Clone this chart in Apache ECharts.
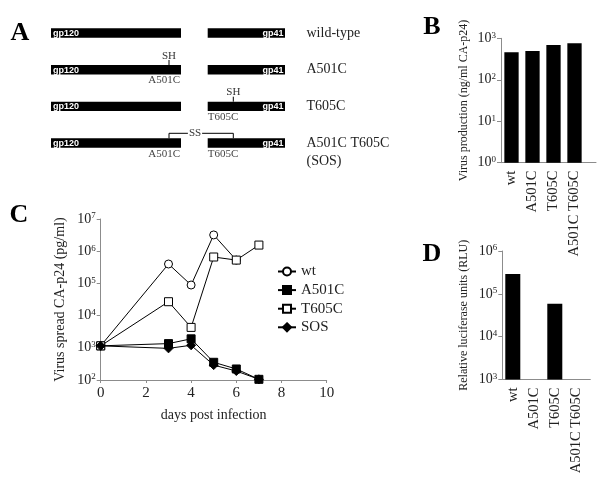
<!DOCTYPE html>
<html><head><meta charset="utf-8">
<script src="https://cdn.jsdelivr.net/npm/echarts@6/dist/echarts.min.js"></script>
<style>html,body{margin:0;padding:0;background:#fff}#c{width:600px;height:479px}</style>
</head><body><div id="c"></div>
<script>
// ---------- Panel A (schematic) ----------
const constructNames = ['wild-type', 'A501C', 'T605C', 'A501C T605C', '(SOS)'];
const domainNames = ['gp120', 'gp41'];
const mutationNames = ['A501C', 'T605C'];
const thiolLabels = ['SH', 'SS'];
// ---------- Panel B ----------
const productionCategories = ['wt', 'A501C', 'T605C', 'A501C T605C'];
const productionValues = [460, 495, 690, 760];
// ---------- Panel C ----------
const days = [0, 3, 4, 5, 6, 7];
const wtSpread = [1150, 4.0e5, 8.9e4, 3.2e6, 5.3e5, null];
const a501cSpread = [1150, 1350, 1900, 355, 220, 105];
const t605cSpread = [1150, 2.7e4, 4.3e3, 6.6e5, 5.3e5, 1.55e6];
const sosSpread = [1150, 960, 1200, 290, 190, 105];
const spreadSeriesNames = ['wt', 'A501C', 'T605C', 'SOS'];
// ---------- Panel D ----------
const luciferaseCategories = ['wt', 'A501C', 'T605C', 'A501C T605C'];
const luciferaseValues = [2.9e5, null, 5.9e4, null];
const panelLetters = ['A', 'B', 'C', 'D'];

const SERIF = "'Liberation Serif', 'Times New Roman', serif";
const SANS = "'Liberation Sans', Arial, sans-serif";
const AX = '#8c8c8c';
const TX = '#222';

function pow10Label(v) {
  const e = Math.round(Math.log10(v));
  return '{b|10}{s|' + e + '}';
}
const powRich = {
  b: { fontSize: 14, fontFamily: SERIF, color: TX, lineHeight: 15 },
  s: { fontSize: 9, fontFamily: SERIF, color: TX, verticalAlign: 'top', lineHeight: 15 }
};
function logY(grid, min, max, name, gap, nameSize) {
  return {
    type: 'log', gridIndex: grid, min: min, max: max, logBase: 10,
    axisLine: { show: true, onZero: false, lineStyle: { color: AX, width: 1 } },
    axisTick: { show: true, length: 4, lineStyle: { color: AX } },
    minorTick: { show: false }, splitLine: { show: false },
    axisLabel: { formatter: pow10Label, rich: powRich, margin: 5 },
    name: name, nameLocation: 'middle', nameGap: gap,
    nameTextStyle: { fontFamily: SERIF, fontSize: nameSize, color: TX }
  };
}
function catX(grid, data) {
  return {
    type: 'category', gridIndex: grid, data: data,
    axisLine: { show: false }, axisTick: { show: false },
    axisLabel: { rotate: 90, margin: 8, fontFamily: SERIF, fontSize: 14.5, color: TX, interval: 0 }
  };
}
function lineOnlyX(grid) {
  return {
    type: 'value', gridIndex: grid, min: 0, max: 1,
    axisLine: { show: true, onZero: false, lineStyle: { color: AX, width: 1 } },
    axisTick: { show: false }, axisLabel: { show: false }, splitLine: { show: false }
  };
}
function hiddenY(grid) {
  return { type: 'value', gridIndex: grid, min: 0, max: 1, show: false };
}
function pairs(arr) {
  return days.map((d, i) => [d, arr[i]]).filter(p => p[1] != null);
}

// Panel A graphics
const g = [];
const rowTop = [28.3, 65, 101.7, 138.3];
const barH = 9.4;
rowTop.forEach((t, i) => {
  g.push({ type: 'rect', shape: { x: 51, y: t, width: 130, height: barH }, style: { fill: '#000' } });
  g.push({ type: 'rect', shape: { x: 207.7, y: t, width: 77.3, height: barH }, style: { fill: '#000' } });
  g.push({ type: 'text', x: 53, y: t + barH / 2 + 0.5, style: { text: domainNames[0], fill: '#fff', font: 'bold 9px ' + SANS, verticalAlign: 'middle', align: 'left' } });
  g.push({ type: 'text', x: 283.5, y: t + barH / 2 + 0.5, style: { text: domainNames[1], fill: '#fff', font: 'bold 9px ' + SANS, verticalAlign: 'middle', align: 'right' } });
  g.push({ type: 'text', x: 306.5, y: t + barH / 2, style: { text: constructNames[i], fill: TX, font: '14px ' + SERIF, verticalAlign: 'middle', align: 'left' } });
});
g.push({ type: 'text', x: 306.5, y: 161.7, style: { text: constructNames[4], fill: TX, font: '14px ' + SERIF, verticalAlign: 'middle', align: 'left' } });
// SH markers
const mutX = [169, 233.3];
g.push({ type: 'line', shape: { x1: mutX[0], y1: 60, x2: mutX[0], y2: rowTop[1] }, style: { stroke: '#000', lineWidth: 1 } });
g.push({ type: 'text', x: mutX[0], y: 56, style: { text: thiolLabels[0], fill: '#333', font: '11px ' + SERIF, align: 'center', verticalAlign: 'middle' } });
g.push({ type: 'text', x: 180, y: 80, style: { text: mutationNames[0], fill: '#444', font: '11px ' + SERIF, align: 'right', verticalAlign: 'middle' } });
g.push({ type: 'line', shape: { x1: mutX[1], y1: 96.7, x2: mutX[1], y2: rowTop[2] }, style: { stroke: '#000', lineWidth: 1 } });
g.push({ type: 'text', x: mutX[1], y: 92.5, style: { text: thiolLabels[0], fill: '#333', font: '11px ' + SERIF, align: 'center', verticalAlign: 'middle' } });
g.push({ type: 'text', x: 207.7, y: 117.3, style: { text: mutationNames[1], fill: '#444', font: '11px ' + SERIF, align: 'left', verticalAlign: 'middle' } });
// SS bracket
g.push({ type: 'polyline', shape: { points: [[mutX[0], rowTop[3]], [mutX[0], 133.3], [mutX[1], 133.3], [mutX[1], rowTop[3]]] }, style: { stroke: '#000', lineWidth: 1, fill: null } });
g.push({ type: 'text', x: 195, y: 133.3, style: { text: thiolLabels[1], fill: '#333', font: '11px ' + SERIF, align: 'center', verticalAlign: 'middle', backgroundColor: '#fff', padding: [0, 1] } });
g.push({ type: 'text', x: 180, y: 154, style: { text: mutationNames[0], fill: '#444', font: '11px ' + SERIF, align: 'right', verticalAlign: 'middle' } });
g.push({ type: 'text', x: 207.7, y: 154, style: { text: mutationNames[1], fill: '#444', font: '11px ' + SERIF, align: 'left', verticalAlign: 'middle' } });
// Panel letters
const letterPos = [[20, 33], [432, 27], [19, 215], [432, 254]];
panelLetters.forEach((L, i) => {
  g.push({ type: 'text', x: letterPos[i][0], y: letterPos[i][1], style: { text: L, fill: '#000', font: 'bold 26px ' + SERIF, align: 'center', verticalAlign: 'middle' } });
});

const lineStyleBase = { color: '#000', width: 1 };
const option = {
  animation: false,
  backgroundColor: '#fff',
  graphic: { elements: g },
  grid: [
    { left: 501, top: 38.3, width: 84, height: 124.4 },
    { left: 501, top: 38.3, width: 95, height: 124.4 },
    { left: 100.7, top: 219, width: 226, height: 161 },
    { left: 502.3, top: 251, width: 84, height: 128.5 },
    { left: 502.3, top: 251, width: 88, height: 128.5 }
  ],
  xAxis: [
    catX(0, productionCategories),
    lineOnlyX(1),
    {
      type: 'value', gridIndex: 2, min: 0, max: 10, interval: 2,
      axisLine: { show: true, onZero: false, lineStyle: { color: AX, width: 1 } },
      axisTick: { show: true, length: 3, lineStyle: { color: AX } },
      splitLine: { show: false },
      axisLabel: { fontFamily: SERIF, fontSize: 15, color: TX, margin: 6 },
      name: 'days post infection', nameLocation: 'middle', nameGap: 28,
      nameTextStyle: { fontFamily: SERIF, fontSize: 14, color: TX }
    },
    catX(3, luciferaseCategories),
    lineOnlyX(4)
  ],
  yAxis: [
    logY(0, 1, 1000, 'Virus production (ng/ml CA-p24)', 31, 12),
    hiddenY(1),
    logY(2, 100, 1e7, 'Virus spread CA-p24 (pg/ml)', 33, 14),
    logY(3, 1000, 1e6, 'Relative luciferase units (RLU)', 32, 12),
    hiddenY(4)
  ],
  legend: {
    data: spreadSeriesNames, orient: 'vertical', left: 272, top: 259,
    itemWidth: 18, itemHeight: 10, itemGap: 3.6,
    textStyle: { fontFamily: SERIF, fontSize: 15, color: TX }
  },
  series: [
    { type: 'bar', xAxisIndex: 0, yAxisIndex: 0, data: productionValues, barWidth: 14.3, clip: true, itemStyle: { color: '#000' } },
    { name: 'wt', type: 'line', xAxisIndex: 2, yAxisIndex: 2, data: pairs(wtSpread), symbol: 'circle', symbolSize: 8,
      lineStyle: lineStyleBase, itemStyle: { color: '#fff', borderColor: '#000', borderWidth: 1 } },
    { name: 'A501C', type: 'line', xAxisIndex: 2, yAxisIndex: 2, data: pairs(a501cSpread), symbol: 'rect', symbolSize: 8,
      lineStyle: lineStyleBase, itemStyle: { color: '#000', borderColor: '#000', borderWidth: 1 } },
    { name: 'T605C', type: 'line', xAxisIndex: 2, yAxisIndex: 2, data: pairs(t605cSpread), symbol: 'rect', symbolSize: 8,
      lineStyle: lineStyleBase, itemStyle: { color: '#fff', borderColor: '#000', borderWidth: 1 } },
    { name: 'SOS', type: 'line', xAxisIndex: 2, yAxisIndex: 2, data: pairs(sosSpread), symbol: 'diamond', symbolSize: 9,
      lineStyle: lineStyleBase, itemStyle: { color: '#000', borderColor: '#000', borderWidth: 1 } },
    { type: 'bar', xAxisIndex: 3, yAxisIndex: 3, data: luciferaseValues.map(v => v == null ? '-' : v), barWidth: 15, clip: true, itemStyle: { color: '#000' } }
  ]
};
const chart = echarts.init(document.getElementById('c'), null, { renderer: 'canvas' });
chart.setOption(option);
</script>
</body></html>
